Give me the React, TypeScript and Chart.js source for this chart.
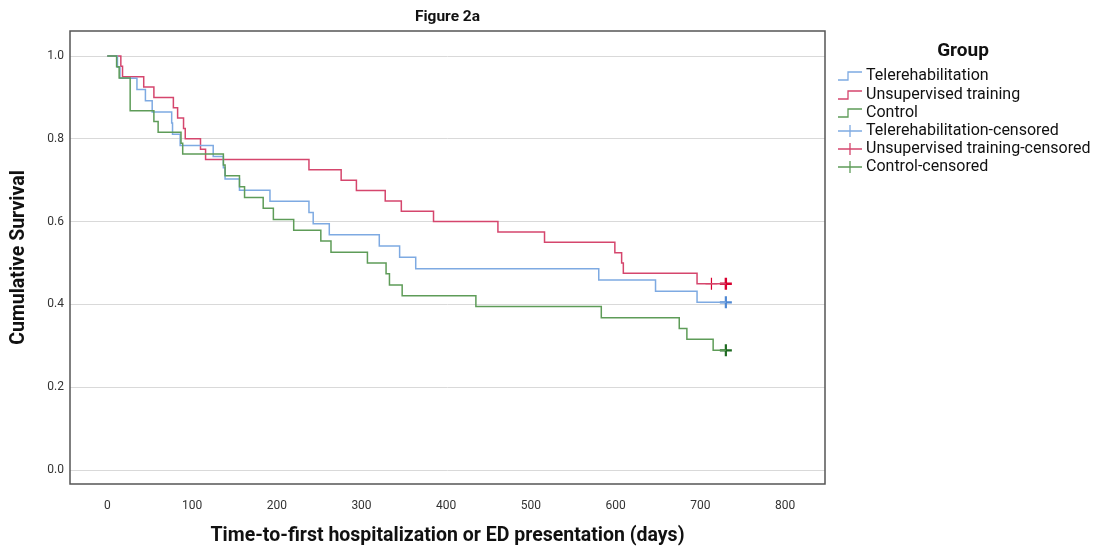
import React, { useEffect, useRef } from "react";
import { Chart, registerables } from "chart.js";

Chart.register(...registerables);

// ---- data ----
const teleTimes = [0, 12, 15, 35, 45, 53, 76, 77, 86, 125, 137, 139, 156, 192, 238, 243, 262, 321, 345, 364, 580, 647, 696, 730];
const teleSurv = [1.0, 0.973, 0.946, 0.919, 0.892, 0.865, 0.838, 0.811, 0.784, 0.757, 0.73, 0.703, 0.676, 0.649, 0.622, 0.595, 0.568, 0.541, 0.514, 0.486, 0.459, 0.432, 0.405, 0.405];

const unsTimes = [0, 16, 18, 43, 55, 78, 83, 90, 92, 110, 116, 238, 276, 294, 328, 347, 385, 461, 516, 599, 607, 609, 696, 730];
const unsSurv = [1.0, 0.975, 0.95, 0.925, 0.9, 0.875, 0.85, 0.825, 0.8, 0.775, 0.75, 0.725, 0.7, 0.675, 0.65, 0.625, 0.6, 0.575, 0.55, 0.525, 0.5, 0.475, 0.45, 0.45];

const ctrlTimes = [0, 11, 14, 27, 55, 60, 87, 89, 137, 139, 156, 162, 184, 196, 220, 252, 264, 307, 329, 333, 348, 435, 583, 675, 684, 715, 730];
const ctrlSurv = [1.0, 0.974, 0.947, 0.868, 0.842, 0.816, 0.789, 0.763, 0.737, 0.711, 0.684, 0.658, 0.632, 0.605, 0.579, 0.553, 0.526, 0.5, 0.474, 0.447, 0.421, 0.395, 0.368, 0.342, 0.316, 0.289, 0.289];

const teleCensTimes = [730];
const teleCensSurv = [0.405];
const unsCensTimes = [713, 730];
const unsCensSurv = [0.45, 0.45];
const ctrlCensTimes = [730];
const ctrlCensSurv = [0.289];

const xTicks = [0, 100, 200, 300, 400, 500, 600, 700, 800];
const yTicks = [0, 0.2, 0.4, 0.6, 0.8, 1.0];

const groupNames = ["Telerehabilitation", "Unsupervised training", "Control"];
const censoredSuffix = "-censored";

const chartTitle = "Figure 2a";
const xTitle = "Time-to-first hospitalization or ED presentation (days)";
const yTitle = "Cumulative Survival";
const legendTitle = "Group";

const lineColors = ["#7eaae2", "#d5466d", "#5e9c58"];
const censColors = ["#4f88d3", "#d8002f", "#1f6b22"];

const FONT = "Roboto, 'Liberation Sans', sans-serif";

const pts = (xs: number[], ys: number[]) => xs.map((x, i) => ({ x, y: ys[i] }));

export default function App() {
  const ref = useRef<HTMLCanvasElement | null>(null);

  useEffect(() => {
    document.body.style.margin = "0";
    const canvas = ref.current;
    if (!canvas) return;

    const overlay = {
      id: "overlay",
      afterDraw(chart: any) {
        const { ctx, chartArea } = chart;
        const { left, right, top, bottom } = chartArea;
        ctx.save();
        // frame
        ctx.strokeStyle = "#555555";
        ctx.lineWidth = 1.5;
        ctx.strokeRect(left, top, right - left, bottom - top);
        // title
        ctx.fillStyle = "#111";
        ctx.font = `bold 15.5px ${FONT}`;
        ctx.textAlign = "center";
        ctx.textBaseline = "middle";
        ctx.fillText(chartTitle, (left + right) / 2, 17);
        // legend
        ctx.font = `bold 19px ${FONT}`;
        ctx.fillText(legendTitle, 963, 51);
        ctx.font = `16px ${FONT}`;
        ctx.textAlign = "left";
        const x0 = 838;
        const x1 = 862;
        const rowY = [76, 95, 113, 131, 149, 167];
        for (let i = 0; i < 6; i++) {
          const y = rowY[i];
          const g = i % 3;
          ctx.lineWidth = 1.3;
          if (i < 3) {
            ctx.strokeStyle = lineColors[g];
            ctx.beginPath();
            ctx.moveTo(x0, y + 4);
            ctx.lineTo(x0 + 10, y + 4);
            ctx.lineTo(x0 + 10, y - 4);
            ctx.lineTo(x1, y - 4);
            ctx.stroke();
          } else {
            ctx.strokeStyle = lineColors[g];
            ctx.beginPath();
            ctx.moveTo(x0, y);
            ctx.lineTo(x1, y);
            ctx.moveTo(x0 + 12, y - 6);
            ctx.lineTo(x0 + 12, y + 6);
            ctx.stroke();
          }
          ctx.fillStyle = "#111";
          const label = i < 3 ? groupNames[g] : groupNames[g] + censoredSuffix;
          ctx.fillText(label, 866, y);
        }
        ctx.restore();
      },
    };

    const lineDs = (i: number, xs: number[], ys: number[]) => ({
      type: "line" as const,
      label: groupNames[i],
      data: pts(xs, ys),
      borderColor: lineColors[i],
      borderWidth: 1.5,
      stepped: "before" as const,
      pointRadius: 0,
      fill: false,
    });
    const censDs = (i: number, xs: number[], ys: number[], widths: number[]) => ({
      type: "scatter" as const,
      label: groupNames[i] + censoredSuffix,
      data: pts(xs, ys),
      borderColor: censColors[i],
      backgroundColor: censColors[i],
      pointStyle: "cross" as const,
      pointRadius: 6,
      pointBorderWidth: widths,
      showLine: false,
    });

    const chart = new Chart(canvas, {
      type: "line",
      data: {
        datasets: [
          lineDs(2, ctrlTimes, ctrlSurv),
          lineDs(0, teleTimes, teleSurv),
          lineDs(1, unsTimes, unsSurv),
          censDs(0, teleCensTimes, teleCensSurv, [2.2]),
          censDs(1, unsCensTimes, unsCensSurv, [1.2, 2.4]),
          censDs(2, ctrlCensTimes, ctrlCensSurv, [2.2]),
        ] as any,
      },
      options: {
        responsive: false,
        animation: false,
        devicePixelRatio: 1,
        layout: { padding: { top: 31, right: 271, left: 0, bottom: 0 } },
        plugins: {
          legend: { display: false },
          title: { display: false },
          tooltip: { enabled: false },
        },
        scales: {
          x: {
            type: "linear",
            min: -44,
            max: 847,
            afterBuildTicks: (s: any) => {
              s.ticks = xTicks.map((v) => ({ value: v }));
            },
            afterFit: (s: any) => {
              s.height = 68;
            },
            grid: { display: false, drawTicks: false },
            border: { display: false },
            ticks: {
              padding: 15,
              color: "#333",
              font: { size: 12, family: FONT },
              maxRotation: 0,
              callback: (v: any) => String(v),
            },
            title: {
              display: true,
              text: xTitle,
              color: "#111",
              font: { size: 19.5, weight: "bold", family: FONT },
              padding: { top: 0, bottom: 4 },
            },
          },
          y: {
            type: "linear",
            min: -0.0338,
            max: 1.0604,
            afterBuildTicks: (s: any) => {
              s.ticks = yTicks.map((v) => ({ value: v }));
            },
            afterFit: (s: any) => {
              s.width = 70;
            },
            grid: { color: "#d9d9d9", lineWidth: 1, drawTicks: false },
            border: { display: false },
            ticks: {
              padding: 6,
              color: "#333",
              font: { size: 12, family: FONT },
              callback: (v: any) => Number(v).toFixed(1),
            },
            title: {
              display: true,
              text: yTitle,
              color: "#111",
              font: { size: 19.5, weight: "bold", family: FONT },
              padding: { top: 7, bottom: 0 },
            },
          },
        },
      } as any,
      plugins: [overlay],
    });

    return () => chart.destroy();
  }, []);

  return (
    <div style={{ width: 1096, height: 552 }}>
      <canvas ref={ref} width={1096} height={552} style={{ display: "block", width: 1096, height: 552 }} />
    </div>
  );
}
